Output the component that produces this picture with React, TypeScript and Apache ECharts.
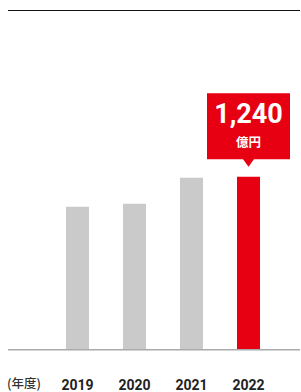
import React, { useEffect, useRef } from "react";
import * as echarts from "echarts";

const years = ["2019", "2020", "2021", "2022"];
const values = [1025, 1046, 1233, 1240];
const highlightValue = "1,240";
const highlightUnit = "億円";
const axisUnit = "(年度)";

const W = 301;
const H = 392;

export default function App() {
  const ref = useRef<HTMLDivElement>(null);
  useEffect(() => {
    if (!ref.current) return;
    const chart = echarts.init(ref.current, null, { renderer: "svg" });
    const gridBottom = 42.5;
    const gridTop = 70.8;
    const last = years.length - 1;
    chart.setOption({
      animation: false,
      grid: { left: 49, right: 24, top: gridTop, bottom: gridBottom },
      xAxis: {
        type: "category",
        data: years,
        axisLine: { show: false },
        axisTick: { show: false },
        axisLabel: {
          color: "#222",
          fontFamily: "Roboto",
          fontWeight: "bold",
          fontSize: 14,
          margin: 28,
        },
      },
      yAxis: { type: "value", min: 0, max: 2000, show: false, splitLine: { show: false } },
      series: [
        {
          type: "bar",
          barWidth: 23,
          data: values.map((v, i) => ({
            value: v,
            itemStyle: { color: i === last ? "#e60012" : "#c9cac9" },
          })),
          markPoint: {
            silent: true,
            data: [
              {
                coord: [years[last], values[last]],
                symbol: "path://M0,0H83V66H47L41.5,73.5L36,66H0Z",
                symbolSize: [83, 73.5],
                symbolOffset: [0, -46.75],
                itemStyle: { color: "#e60012" },
                label: {
                  show: true,
                  position: "inside",
                  offset: [0, -4],
                  formatter: `{a|${highlightValue}}\n{b|${highlightUnit}}`,
                  rich: {
                    a: {
                      color: "#fff",
                      fontFamily: "Roboto",
                      fontWeight: "bold",
                      fontSize: 27,
                      lineHeight: 31,
                      align: "center",
                    },
                    b: {
                      color: "#fff",
                      fontFamily: "Noto Sans CJK JP",
                      fontWeight: "bold",
                      fontSize: 12.5,
                      lineHeight: 23,
                      align: "center",
                    },
                  },
                },
              },
            ],
          },
        },
      ],
      graphic: [
        {
          type: "line",
          shape: { x1: 8, y1: 10.5, x2: 300, y2: 10.5 },
          style: { stroke: "#111", lineWidth: 1 },
          silent: true,
        },
        {
          type: "line",
          shape: { x1: 8, y1: H - gridBottom + 0.2, x2: 300, y2: H - gridBottom + 0.2 },
          style: { stroke: "#aaaaaa", lineWidth: 1.5 },
          silent: true,
          z: 10,
        },
        {
          type: "text",
          left: 7,
          top: 376,
          style: {
            text: axisUnit,
            fill: "#333",
            fontFamily: "Noto Sans CJK JP",
            fontWeight: 500,
            fontSize: 12.5,
          },
          silent: true,
        },
      ],
    });
    return () => chart.dispose();
  }, []);
  return (
    <div
      ref={ref}
      style={{ position: "absolute", left: 0, top: 0, width: W, height: H, background: "#fff" }}
    />
  );
}
